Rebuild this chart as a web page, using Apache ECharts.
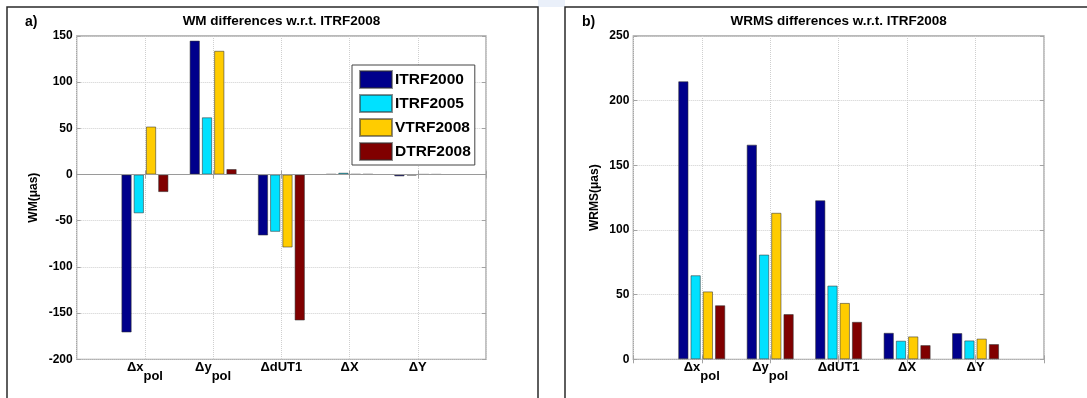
<!DOCTYPE html>
<html>
<head>
<meta charset="utf-8">
<script src="https://cdn.jsdelivr.net/npm/echarts@6/dist/echarts.min.js"></script>
<style>
  html, body { margin: 0; padding: 0; background: #fff; }
  #main { width: 1087px; height: 398px; }
</style>
</head>
<body>
<div id="main"></div>
<script>
// categories ("_" marks the subscript part)
const categories = ['Δx_pol', 'Δy_pol', 'ΔdUT1', 'ΔX', 'ΔY'];
const seriesNames = ['ITRF2000', 'ITRF2005', 'VTRF2008', 'DTRF2008'];
const colors = ['#00008B', '#00E1FF', '#FFCC00', '#800000'];

// a) WM differences (µas)
const wmITRF2000 = [-171, 145, -66, 0.5, -2];
const wmITRF2005 = [-42, 62, -62, 2, -1];
const wmVTRF2008 = [52, 134, -79, 0.5, 0.3];
const wmDTRF2008 = [-19, 6, -158, 0.5, 0.3];

// b) WRMS differences (µas)
const wrmsITRF2000 = [215, 166, 123, 20.5, 20.3];
const wrmsITRF2005 = [65, 81, 57, 14.4, 14.6];
const wrmsVTRF2008 = [52.5, 113.3, 43.6, 17.7, 16];
const wrmsDTRF2008 = [41.8, 35, 29, 11, 11.8];

const wmTicks = { min: -200, max: 150, interval: 50 };
const wrmsTicks = { min: 0, max: 250, interval: 50 };

const FONT = '"Liberation Sans", Arial, sans-serif';
const frameGray = '#a3a3a3';

// the axis runs 0..6, categories sit on 1..5
const axisCats = [''].concat(categories, ['']);
const pad = (arr) => [null].concat(arr, [null]);

const chart = echarts.init(document.getElementById('main'));

function xAxes(gridIndex) {
  const base = {
    type: 'category',
    gridIndex: gridIndex,
    data: axisCats,
    boundaryGap: false,
    axisLine: { show: false },
    axisTick: { show: true, inside: true, length: 4, interval: 0, lineStyle: { color: frameGray } },
  };
  return [
    Object.assign({}, base, {
      position: 'bottom',
      splitLine: { show: true, interval: 0, lineStyle: { color: '#cfcfcf', type: 'dotted' } },
      axisLabel: {
        interval: 0,
        margin: 5,
        formatter: function (v) {
          if (!v) return '';
          const parts = v.split('_');
          return parts.length > 1 ? '{a|' + parts[0] + '}{s|' + parts[1] + '}' : '{a|' + v + '}';
        },
        rich: {
          a: { fontFamily: FONT, fontWeight: 'bold', fontSize: 13, color: '#000', lineHeight: 15, padding: [0, 0, 9, 0] },
          s: { fontFamily: FONT, fontWeight: 'bold', fontSize: 13, color: '#000', lineHeight: 15, padding: [9, 0, 0, 0] },
        },
      },
    }),
    Object.assign({}, base, { position: 'top', axisLabel: { show: false }, splitLine: { show: false } }),
  ];
}

function yAxes(gridIndex, ticks, name, nameGap) {
  const base = {
    type: 'value',
    gridIndex: gridIndex,
    min: ticks.min,
    max: ticks.max,
    interval: ticks.interval,
    axisLine: { show: false },
    axisTick: { show: true, inside: true, length: 4, lineStyle: { color: frameGray } },
  };
  return [
    Object.assign({}, base, {
      position: 'left',
      name: name,
      nameLocation: 'middle',
      nameGap: nameGap,
      nameRotate: 90,
      nameTextStyle: { fontFamily: FONT, fontWeight: 'bold', fontSize: 12, color: '#000' },
      axisLabel: { margin: 4, fontFamily: FONT, fontWeight: 'bold', fontSize: 12, color: '#000' },
      splitLine: { show: true, lineStyle: { color: '#cfcfcf', type: 'dotted' } },
    }),
    Object.assign({}, base, { position: 'right', axisLabel: { show: false }, splitLine: { show: false } }),
  ];
}

function barSeries(name, idx, values, xi, yi, extra) {
  return Object.assign({
    name: name,
    type: 'bar',
    xAxisIndex: xi,
    yAxisIndex: yi,
    barWidth: 10.3,
    barGap: '19%',
    itemStyle: { color: colors[idx], borderColor: 'rgba(50,50,50,0.55)', borderWidth: 1 },
    data: pad(values),
  }, extra || {});
}

const zeroLine = {
  markLine: {
    silent: true,
    symbol: 'none',
    label: { show: false },
    lineStyle: { color: '#9a9a9a', type: 'solid', width: 1 },
    data: [{ yAxis: 0 }],
  },
};

const option = {
  animation: false,
  backgroundColor: '#fff',
  textStyle: { fontFamily: FONT },
  grid: [
    { left: 76.7, top: 36, width: 409.3, height: 323.3, show: true, borderColor: frameGray, borderWidth: 1.3, backgroundColor: 'transparent' },
    { left: 633.3, top: 36, width: 410.7, height: 323.3, show: true, borderColor: frameGray, borderWidth: 1.3, backgroundColor: 'transparent' },
  ],
  legend: {
    data: seriesNames,
    orient: 'vertical',
    left: 352,
    top: 65,
    padding: [5, 4, 4, 7],
    itemWidth: 32,
    itemHeight: 17,
    itemGap: 5,
    icon: 'rect',
    backgroundColor: '#fff',
    borderColor: '#444',
    borderWidth: 1,
    textStyle: { fontFamily: FONT, fontWeight: 'bold', fontSize: 15.5, color: '#000', padding: [0, 0, 0, -2] },
  },
  xAxis: xAxes(0).concat(xAxes(1)),
  yAxis: yAxes(0, wmTicks, 'WM(μas)', 37).concat(yAxes(1, wrmsTicks, 'WRMS(μas)', 33)),
  series: [
    barSeries(seriesNames[0], 0, wmITRF2000, 0, 0, zeroLine),
    barSeries(seriesNames[1], 1, wmITRF2005, 0, 0),
    barSeries(seriesNames[2], 2, wmVTRF2008, 0, 0),
    barSeries(seriesNames[3], 3, wmDTRF2008, 0, 0),
    barSeries(seriesNames[0], 0, wrmsITRF2000, 2, 2),
    barSeries(seriesNames[1], 1, wrmsITRF2005, 2, 2),
    barSeries(seriesNames[2], 2, wrmsVTRF2008, 2, 2),
    barSeries(seriesNames[3], 3, wrmsDTRF2008, 2, 2),
  ],
  graphic: [
    { type: 'rect', shape: { x: 538, y: 0, width: 27, height: 7 }, style: { fill: '#eaf0fa' }, silent: true },
    { type: 'rect', shape: { x: 7, y: 7, width: 531, height: 400 }, style: { fill: null, stroke: '#2a2a2a', lineWidth: 1.5 }, silent: true },
    { type: 'rect', shape: { x: 565, y: 7, width: 540, height: 400 }, style: { fill: null, stroke: '#2a2a2a', lineWidth: 1.5 }, silent: true },
    { type: 'text', left: 25, top: 15, style: { text: 'a)', font: 'bold 14px ' + FONT, fill: '#000' } },
    { type: 'text', left: 582, top: 15, style: { text: 'b)', font: 'bold 14px ' + FONT, fill: '#000' } },
    { type: 'text', x: 281.4, y: 21.5, style: { text: 'WM differences w.r.t. ITRF2008', font: 'bold 13.5px ' + FONT, fill: '#000', align: 'center', verticalAlign: 'middle' } },
    { type: 'text', x: 838.7, y: 21.5, style: { text: 'WRMS differences w.r.t. ITRF2008', font: 'bold 13.5px ' + FONT, fill: '#000', align: 'center', verticalAlign: 'middle' } },
  ],
};

chart.setOption(option);
</script>
</body>
</html>
